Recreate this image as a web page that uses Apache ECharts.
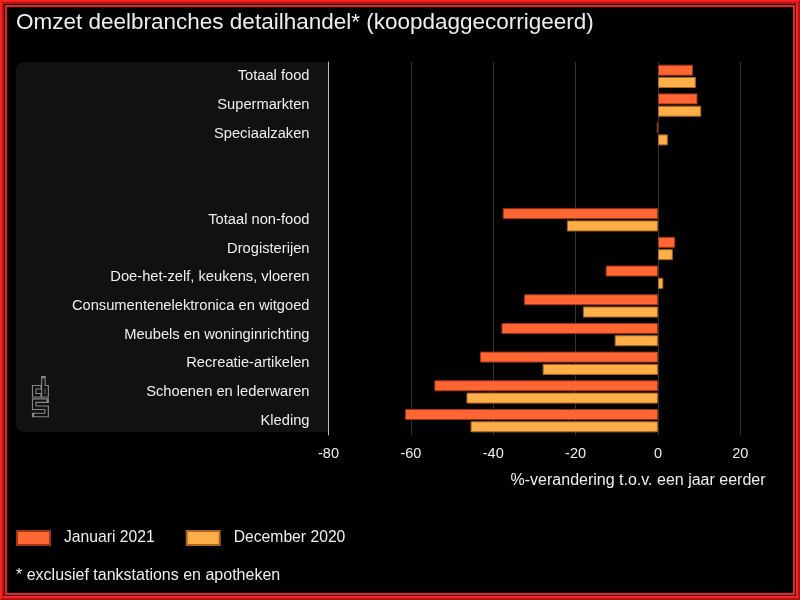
<!DOCTYPE html>
<html><head><meta charset="utf-8">
<script src="https://cdn.jsdelivr.net/npm/echarts@6/dist/echarts.min.js"></script>
<style>
html,body{margin:0;padding:0;background:#000;}
#wrap{position:relative;width:800px;height:600px;overflow:hidden;}
#chart{position:absolute;left:0;top:0;width:800px;height:600px;}
#b1{position:absolute;left:0;top:0;width:800px;height:600px;box-sizing:border-box;border:4px ridge #ff2020;pointer-events:none;}
#b2{position:absolute;left:5px;top:5px;width:790px;height:590px;box-sizing:border-box;border:2px solid #ff1a1a;pointer-events:none;}
</style></head>
<body><div id="wrap"><div id="chart"></div><div id="b1"></div><div id="b2"></div></div>
<script>
var categories = ['Totaal food','Supermarkten','Speciaalzaken',' ','  ','Totaal non-food','Drogisterijen','Doe-het-zelf, keukens, vloeren','Consumentenelektronica en witgoed','Meubels en woninginrichting','Recreatie-artikelen','Schoenen en lederwaren','Kleding'];
var januari2021 = [8.5, 9.6, -0.3, null, null, -37.7, 4.2, -12.7, -32.5, -38.0, -43.2, -54.3, -61.4];
var december2020 = [9.2, 10.5, 2.4, null, null, -22.1, 3.6, 1.3, -18.2, -10.5, -28.0, -46.5, -45.5];
var seriesNames = ['Januari 2021', 'December 2020'];
var xTicks = [-80, -60, -40, -20, 0, 20];

var chart = echarts.init(document.getElementById('chart'), null, {renderer:'canvas'});
var txt = '#eeeeee';
var font = 'Liberation Sans, Arial, sans-serif';
function cbsPath(){
  return [
    [[40.5,387.2],[34.2,387.2],[34.2,395.2],[40.5,395.2]],
    [[43.4,378.2],[43.4,395.2],[46.6,395.2],[46.6,387.2],[43.4,387.2]],
    [[46.6,400.6],[34.2,400.6],[34.2,407.8],[46.6,407.8],[46.6,415],[34.2,415]]
  ];
}
var logo = [];
cbsPath().forEach(function(p){
  logo.push({type:'polyline', shape:{points:p}, style:{stroke:'#8a8a8a', lineWidth:4.6, fill:null, lineJoin:'miter', lineCap:'square'}, z:1, silent:true});
});
cbsPath().forEach(function(p){
  logo.push({type:'polyline', shape:{points:p}, style:{stroke:'#111111', lineWidth:2.4, fill:null, lineJoin:'miter', lineCap:'butt'}, z:2, silent:true});
});
var option = {
  backgroundColor:'#000',
  animation:false,
  title:{text:'Omzet deelbranches detailhandel* (koopdaggecorrigeerd)', left:11, top:6,
    textStyle:{color:txt, fontSize:22.5, fontWeight:'normal', fontFamily:font}},
  legend:{left:16, top:530, padding:0, itemWidth:33, itemHeight:14, itemGap:31, icon:'rect',
    textStyle:{color:txt, fontSize:15.7, fontFamily:font, padding:[0,0,0,9]}, data:seriesNames},
  grid:{left:328.5, right:18.5, top:62, bottom:165, containLabel:false},
  xAxis:{type:'value', min:-80, max:30, interval:10,
    name:'%-verandering t.o.v. een jaar eerder', nameLocation:'end', nameGap:-16,
    nameTextStyle:{color:txt, fontSize:16, fontFamily:font, align:'right', verticalAlign:'top', padding:[38,0,0,0]},
    axisLine:{show:false}, axisTick:{show:false},
    axisLabel:{color:txt, fontSize:14.5, fontFamily:font, margin:11,
      formatter:function(v){ return xTicks.indexOf(v) >= 0 ? String(v) : ''; }},
    splitLine:{show:true, lineStyle:{color:['transparent','transparent','#333','transparent','#333','transparent','#333','transparent','#333','transparent','#333','transparent'], width:1}}
  },
  yAxis:{type:'category', data:categories, inverse:true,
    axisLine:{show:true, onZero:false, lineStyle:{color:'#bbbbbb', width:1}}, axisTick:{show:false},
    axisLabel:{color:txt, fontSize:14.7, fontFamily:font, margin:19}},
  graphic:[
    {type:'rect', shape:{x:16, y:62, width:312.5, height:370, r:[8,0,0,8]}, style:{fill:'#111111'}, z:-10, silent:true},
    {type:'text', left:16, top:568, style:{text:'* exclusief tankstations en apotheken', fill:txt, fontSize:16, fontFamily:font}}
  ].concat(logo),
  series:[
    {name:seriesNames[0], type:'bar', data:januari2021, barWidth:11, barGap:'12%',
      itemStyle:{color:'#FF6633', borderColor:'#9e3514', borderWidth:1}},
    {name:seriesNames[1], type:'bar', data:december2020, barWidth:11,
      itemStyle:{color:'#FFAF4A', borderColor:'#a8661e', borderWidth:1}}
  ]
};
chart.setOption(option);
</script></body></html>
